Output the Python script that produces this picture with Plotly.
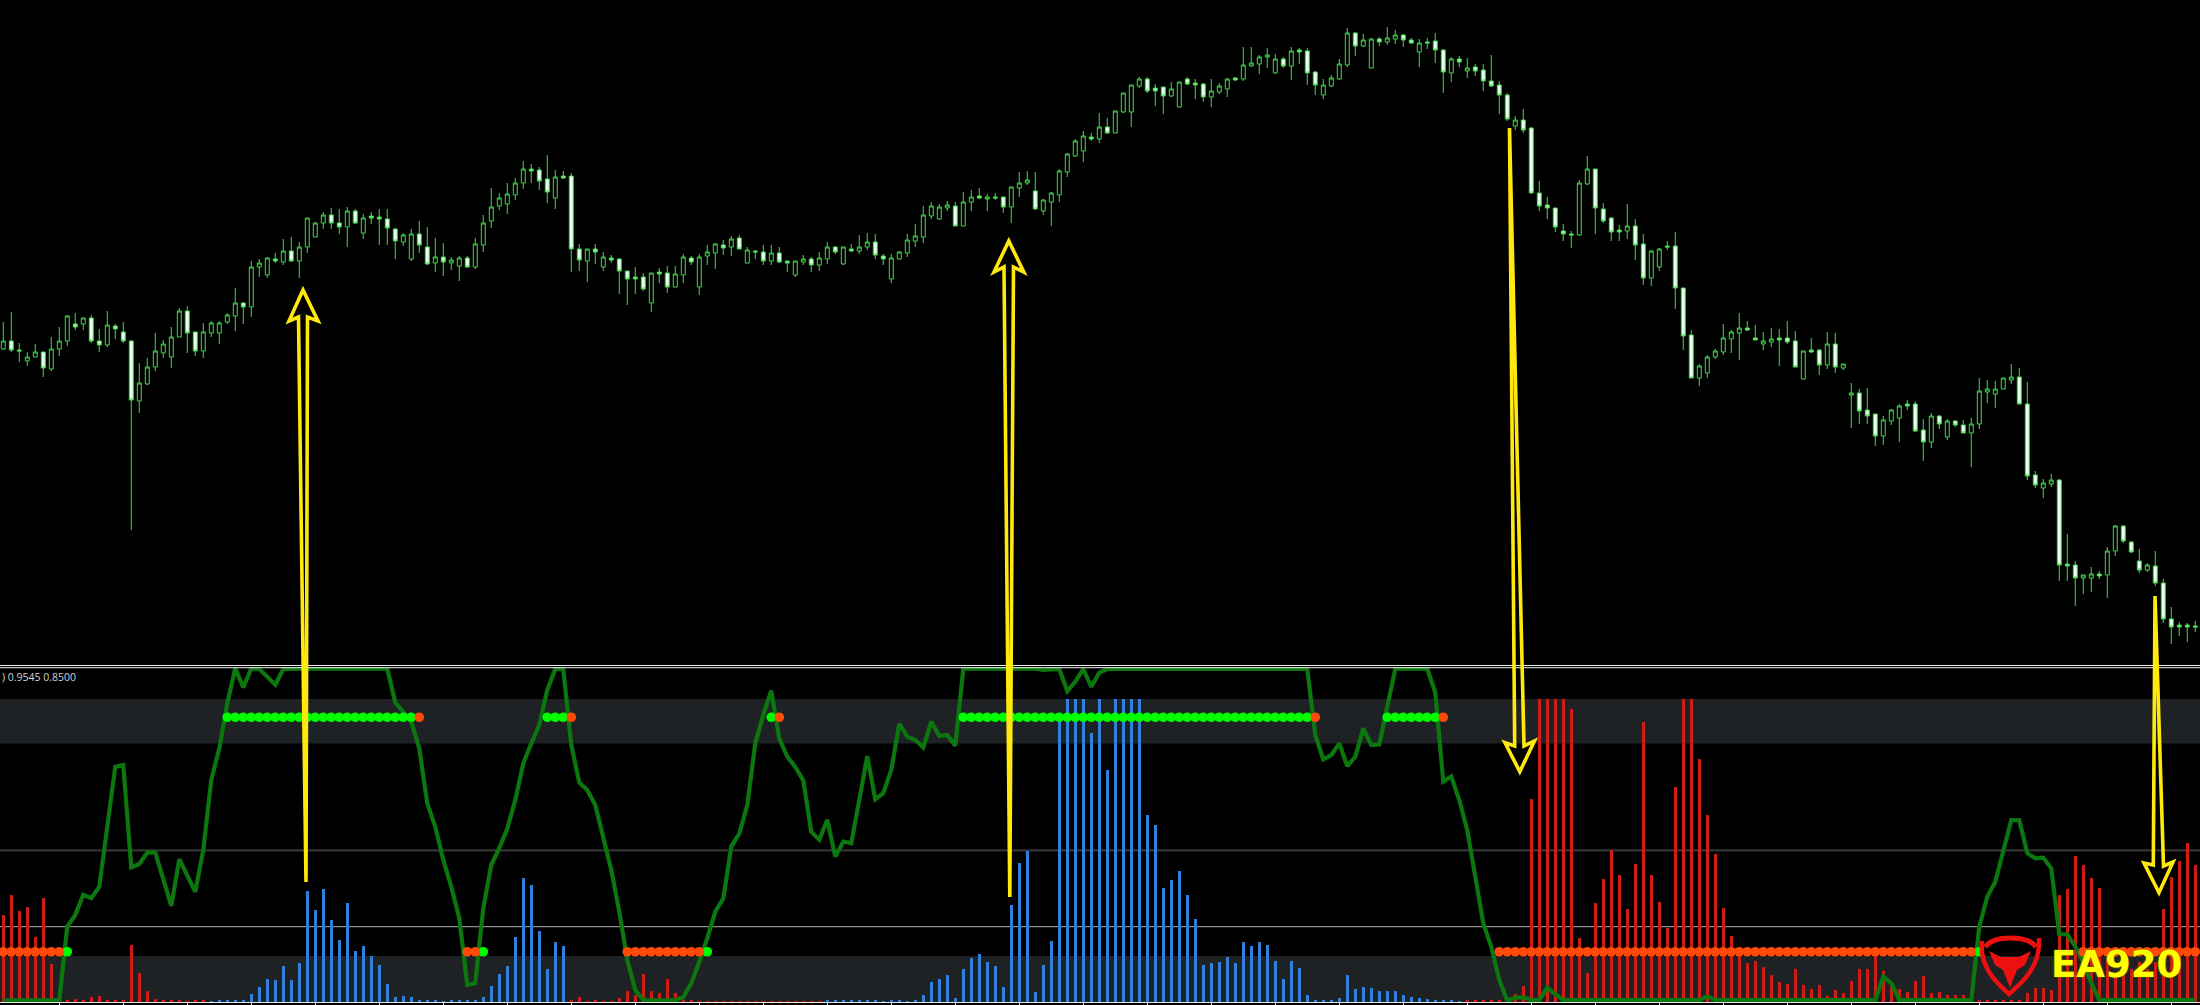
import plotly.graph_objects as go

W, H = 2200, 1005

# ---- price panel data -------------------------------------------------
body_top = [
359,359,350,343,348,348,351,359,384,376,
382,382,359,375,374,368,359,317,333,349,
356,363,389,389,368,368,377,377,385,397,
397,433,437,442,441,449,449,453,482,477,
485,485,477,489,489,482,484,483,481,471,
465,466,466,453,443,443,440,442,442,456,
477,493,502,506,517,531,531,530,521,523,
524,524,451,451,451,443,442,441,429,423,
423,427,428,427,426,443,442,443,448,456,
455,461,462,450,449,448,447,447,439,439,
441,441,442,453,453,453,451,453,458,458,
444,442,448,460,464,485,494,493,495,494,
498,503,504,503,503,503,513,517,520,509,
500,507,529,546,559,564,563,573,573,589,
607,615,621,621,612,613,611,618,621,617,
616,609,614,621,622,635,637,643,645,641,
641,649,650,649,628,615,622,636,667,667,
660,661,661,662,665,665,660,657,658,659,
650,641,641,632,633,630,619,615,605,580,
580,572,507,495,492,469,466,517,531,531,
491,482,470,474,474,456,449,451,454,454,
412,365,334,343,349,362,368,372,372,362,
359,361,362,362,359,349,350,350,356,356,
336,307,307,290,286,280,290,294,296,296,
270,284,284,279,279,275,276,309,311,311,
322,323,323,296,225,217,220,220,136,135,
125,126,126,149,174,174,158,139,135,134,
117,81,75,75,74]
body_bottom = [
351,350,349,339,343,332,331,351,359,373,
376,359,355,355,371,359,300,299,316,333,
347,343,363,367,349,349,367,367,378,384,
393,393,433,425,439,438,439,439,453,463,
477,477,473,473,477,467,482,481,472,459,
458,441,455,436,437,438,437,434,433,433,
455,479,494,496,505,517,529,519,508,502,
522,451,440,439,448,433,440,429,421,421,
411,397,426,413,413,425,438,413,444,447,
452,453,451,437,448,439,439,438,437,425,
438,435,435,441,448,436,449,449,453,445,
441,421,441,447,459,463,484,481,492,474,
474,498,502,501,502,493,493,512,517,491,
489,498,505,528,544,549,561,561,567,567,
588,588,614,609,609,604,604,593,616,615,
603,603,608,611,620,621,634,636,643,627,
634,634,648,627,615,605,614,621,635,654,
654,632,658,658,661,660,657,648,657,650,
628,627,638,629,629,619,614,605,581,574,
570,507,494,492,473,466,465,465,516,492,
479,468,468,469,455,422,422,433,453,412,
364,322,322,327,343,348,361,367,370,360,
356,358,360,358,333,321,348,335,335,333,
332,305,289,284,264,264,279,282,294,269,
258,258,276,263,275,267,267,276,308,306,
311,320,296,224,215,212,216,135,134,122,
122,122,124,125,149,159,148,130,130,117,
81,73,73,73,73]
high_price = [
378,388,357,348,356,348,363,373,385,387,
382,385,371,389,376,378,360,337,342,367,
360,373,392,394,368,377,379,379,387,412,
398,439,441,443,447,461,463,458,482,478,
488,492,491,493,491,486,488,491,491,472,
467,471,479,473,462,457,443,444,444,462,
485,512,507,517,522,539,536,533,545,530,
529,527,456,451,456,448,445,442,429,433,
427,427,432,434,434,446,444,446,455,457,
460,464,465,453,450,455,455,453,439,439,
445,443,448,458,454,453,456,465,467,466,
446,446,449,466,476,494,498,496,499,498,
508,510,512,506,507,503,513,528,529,528,
501,508,531,547,561,569,567,587,582,589,
607,615,623,623,616,613,618,618,623,621,
617,621,617,622,623,653,653,645,652,646,
643,653,652,652,629,621,625,641,672,668,
666,662,663,673,670,666,662,661,662,667,
651,643,644,642,636,636,645,619,607,584,
591,573,519,503,492,476,469,520,544,531,
497,483,475,496,481,466,450,452,459,468,
412,370,336,345,351,376,370,387,379,375,
368,372,371,379,369,349,362,351,368,367,
336,317,311,312,286,284,291,296,300,299,
281,287,285,281,280,280,282,322,320,319,
322,336,332,318,229,221,226,221,166,139,
125,133,129,153,175,175,159,151,137,149,
121,93,78,77,79]
low_price = [
350,348,338,334,343,323,329,344,354,370,
370,357,348,353,361,357,170,287,315,329,
342,332,363,347,344,342,363,356,376,369,
376,383,423,422,437,435,438,422,447,463,
471,471,466,453,476,461,476,455,455,441,
454,439,447,435,428,424,430,419,432,431,
448,472,490,486,500,511,517,510,497,491,
521,428,429,418,436,429,437,406,395,406,
409,388,417,407,413,417,435,405,435,431,
445,444,451,437,441,435,435,437,428,423,
435,428,429,436,446,435,448,446,450,441,
435,417,441,443,453,457,481,480,489,474,
474,489,501,489,500,487,477,503,515,490,
485,474,498,523,543,538,559,557,566,567,
587,573,612,607,594,586,603,593,615,601,
598,593,606,603,619,619,633,626,632,626,
632,620,636,615,605,601,613,620,633,644,
653,632,654,655,656,653,656,633,651,637,
607,618,633,622,624,609,613,586,579,570,
567,506,489,481,468,459,452,464,515,466,
477,459,459,461,440,415,414,429,450,391,
350,322,314,322,341,345,347,340,369,360,
350,353,334,356,333,321,347,325,331,327,
330,272,276,276,254,255,275,258,290,268,
239,252,271,260,273,267,233,271,297,292,
311,316,296,220,212,202,213,119,119,94,
106,108,121,102,144,157,147,127,128,114,
77,56,64,58,68]
is_bearish = [
0,1,1,0,0,1,0,0,0,1,
0,1,1,0,1,1,1,0,0,0,
0,0,0,1,1,0,0,0,0,0,
1,0,0,0,1,0,1,0,0,0,
0,1,1,0,1,0,1,1,1,1,
0,0,1,1,0,1,0,0,1,0,
0,0,0,0,0,0,1,1,1,0,
1,1,1,0,1,0,1,1,1,1,
1,0,1,1,0,0,1,0,0,0,
1,0,1,0,1,1,0,1,1,0,
0,1,0,0,1,0,1,0,0,1,
1,0,0,0,0,0,0,0,0,1,
0,0,1,0,1,1,0,0,0,1,
0,0,0,0,0,0,1,0,1,0,
0,0,0,1,1,1,0,0,1,1,
1,0,0,0,1,0,0,0,0,0,
1,0,1,1,1,0,0,0,0,1,
0,0,1,0,0,1,1,0,1,1,
1,0,1,0,1,1,1,1,1,0,
1,1,1,1,1,1,1,0,0,1,
1,1,1,0,1,1,0,0,1,1,
1,1,0,0,0,0,0,0,1,1,
0,0,1,1,1,0,1,1,0,1,
0,0,1,1,1,0,0,0,1,1,
1,0,1,0,1,1,0,0,0,0,
0,0,1,1,1,0,0,1,1,1,
0,0,1,0,0,1,1,1,0,1,
1,1,1,1,1]

# ---- indicator panel data ----------------------------------------------
strength = [
.26,.319,.272,.284,.195,.31,.113,.002,.006,.009,
.004,.015,.018,.004,.004,.003,.17,.088,.034,.009,
.004,.004,.004,.002,.004,.004,.002,.003,.003,.004,
.003,.024,.046,.069,.066,.107,.066,.117,.331,.275,
.337,.245,.185,.296,.152,.167,.137,.11,.054,.015,
.018,.015,.004,.003,.003,.002,.004,.004,.003,.003,
.015,.048,.084,.107,.194,.37,.349,.212,.099,.179,
.167,.004,.015,.002,.004,.002,.002,.012,.033,.02,
.084,.033,.027,.069,.027,.003,.003,.002,.002,.002,
.002,.002,.002,.002,.002,.002,.002,.002,.002,.002,
.002,.002,.002,.003,.003,.003,.003,.003,.003,.003,
.002,.003,.003,.002,.003,.021,.06,.069,.081,.012,
.099,.131,.143,.119,.107,.045,.29,.415,.451,.03,
.11,.182,.85,.905,.905,.905,.803,.905,.693,.905,
.905,.905,.905,.558,.528,.34,.364,.391,.319,.248,
.11,.116,.119,.134,.116,.179,.167,.179,.17,.122,
.069,.122,.101,.021,.006,.004,.005,.012,.081,.039,
.045,.042,.033,.033,.033,.021,.015,.012,.009,.004,
.003,.003,.002,.003,.003,.003,.003,.003,.002,.024,
.048,.606,.905,.905,.905,.905,.875,.191,.087,.296,
.367,.454,.379,.278,.412,.836,.379,.299,.221,.642,
.905,.905,.725,.558,.442,.281,.197,.145,.116,.122,
.104,.081,.06,.054,.099,.051,.039,.051,.018,.036,
.027,.063,.099,.099,.137,.093,.05,.039,.03,.063,
.078,.027,.03,.021,.021,.021,.004,.003,.003,.003,
.003,.003,.003,.027,.042,.042,.036,.319,.337,.436,
.409,.37,.34,.13,.085,.14,.1,.12,.1,.12,
.277,.374,.421,.475,.409]
blue_runs = [(26, 70), (103, 182)]

oscillator = [
.005,.005,.005,.005,.005,.005,.005,.005,.225,.26,
.32,.31,.344,.523,.702,.707,.402,.412,.446,.446,
.364,.287,.426,.374,.329,.454,.663,.757,.892,.996,
.939,.996,.994,.971,.947,.994,.995,.995,.995,.995,
.995,.995,.995,.995,.995,.995,.995,.995,.995,.894,
.867,.837,.757,.593,.523,.424,.344,.25,.051,.056,
.28,.409,.459,.518,.603,.712,.772,.827,.931,.994,
.994,.767,.655,.633,.588,.484,.394,.27,.125,.036,
.006,.005,.005,.005,.006,.014,.056,.12,.19,.27,
.309,.464,.503,.588,.772,.857,.929,.787,.732,.702,
.661,.508,.484,.544,.434,.479,.474,.603,.734,.605,
.623,.693,.83,.792,.782,.76,.837,.794,.797,.765,
.994,.995,.995,.995,.995,.995,.995,.995,.995,.995,
.991,.991,.994,.928,.956,.994,.941,.983,.994,.995,
.995,.995,.995,.995,.995,.995,.995,.995,.995,.995,
.995,.995,.995,.995,.995,.995,.995,.995,.995,.995,
.995,.995,.995,.994,.797,.724,.737,.772,.704,.732,
.817,.767,.769,.882,.994,.995,.995,.995,.995,.923,
.658,.673,.603,.513,.374,.235,.165,.066,.004,.013,
.014,.006,.006,.043,.023,.006,.006,.006,.006,.006,
.006,.006,.006,.006,.006,.006,.006,.006,.006,.006,
.006,.006,.006,.016,.006,.006,.006,.006,.006,.006,
.006,.006,.006,.006,.006,.006,.006,.006,.006,.006,
.006,.006,.006,.006,.006,.076,.056,.006,.006,.006,
.006,.006,.006,.006,.006,.006,.006,.225,.314,.359,
.454,.543,.543,.444,.429,.431,.399,.203,.202,.165,
.12,.056,.006,.006,.006,.006,.006,.006,.006,.006,
.006,.006,.006,.006,.006]

# runs of signal dots: (first bar, last bar, level)
green_dot_runs = [(8, 8, .15), (28, 51, .85), (60, 60, .15), (68, 70, .85), (88, 88, .15),
                  (96, 96, .85), (120, 163, .85), (173, 179, .85), (247, 247, .15)]
orange_dot_runs = [(0, 7, .15), (52, 52, .85), (58, 59, .15), (71, 71, .85), (78, 87, .15),
                   (97, 97, .85), (164, 164, .85), (180, 180, .85), (187, 246, .15), (260, 274, .15)]

band_levels = [(.7716, .9045), (0, .137)]
level_lines = [(.4528, "#343434", 2.2), (.2248, "#8c8c8c", 1.2)]
tick_bars = list(range(7, 275, 8))
indicator_label = ") 0.9545 0.8500"
logo_label = "EA920"

bars = list(range(len(body_top)))
open_price = [t if b else d for t, d, b in zip(body_top, body_bottom, is_bearish)]
close_price = [d if b else t for t, d, b in zip(body_top, body_bottom, is_bearish)]


def expand(runs):
    xs, ys = [], []
    for a, b, level in runs:
        for i in range(a, b + 1):
            xs.append(i)
            ys.append(level)
    return xs, ys


hist_colors = ["#2f7fdc" if any(a <= i <= b for a, b in blue_runs) else "#d01c16" for i in bars]

CANDLE = "#3fdc44"
fig = go.Figure()
fig.add_trace(go.Candlestick(
    x=bars, open=open_price, high=high_price, low=low_price, close=close_price,
    xaxis="x", yaxis="y", whiskerwidth=0,
    increasing=dict(line=dict(color=CANDLE, width=1), fillcolor="#000000"),
    decreasing=dict(line=dict(color=CANDLE, width=1), fillcolor="#eafff0"),
    showlegend=False,
))
fig.add_trace(go.Bar(x=bars, y=strength, xaxis="x2", yaxis="y2", width=0.36,
                     marker=dict(color=hist_colors, line=dict(width=0)), showlegend=False))
fig.add_trace(go.Scatter(x=bars, y=oscillator, xaxis="x2", yaxis="y2", mode="lines",
                         line=dict(color="#0c760f", width=4.2), showlegend=False))
gx, gy = expand(green_dot_runs)
ox, oy = expand(orange_dot_runs)
fig.add_trace(go.Scatter(x=gx, y=gy, xaxis="x2", yaxis="y2", mode="markers",
                         marker=dict(color="#00ff00", size=9.6, line=dict(width=0)), showlegend=False))
fig.add_trace(go.Scatter(x=ox, y=oy, xaxis="x2", yaxis="y2", mode="markers",
                         marker=dict(color="#ff4a0a", size=9.6, line=dict(width=0)), showlegend=False))


def path(points, close=True):
    s = "M " + " L ".join(f"{x / W:.5f},{1 - y / H:.5f}" for x, y in points)
    return s + (" Z" if close else "")


def curve(cmd):
    out = []
    for tok in cmd.split():
        if "," in tok:
            x, y = tok.split(",")
            out.append(f"{float(x) / W:.5f},{1 - float(y) / H:.5f}")
        else:
            out.append(tok)
    return " ".join(out)


shapes = []
for lo, hi in band_levels:
    shapes.append(dict(type="rect", xref="paper", yref="y2", x0=0, x1=1, y0=lo, y1=hi,
                       fillcolor="#1f2225", line=dict(width=0), layer="below"))
for lvl, col, wd in level_lines:
    shapes.append(dict(type="line", xref="paper", yref="y2", x0=0, x1=1, y0=lvl, y1=lvl,
                       line=dict(color=col, width=wd), layer="below"))
for yy in (665.5, 667.7):
    shapes.append(dict(type="line", xref="paper", yref="paper", x0=0, x1=1,
                       y0=1 - yy / H, y1=1 - yy / H, line=dict(color="#f0f0f0", width=1)))

# yellow hand-drawn arrows (annotation overlay)
YEL = "#ffe80d"
arrow_outlines = [
    [(306, 882), (298.5, 317), (289, 321), (303, 290), (318, 321), (307.5, 317)],
    [(1009.8, 897), (1004, 267), (994, 272), (1008.8, 241), (1023.8, 272), (1013.5, 267)],
    [(1509.5, 128), (1514.7, 746), (1505, 742.7), (1519.8, 771.7), (1534.4, 741), (1524, 746)],
    [(2155, 596), (2153.3, 865), (2144, 863), (2159, 892.7), (2173, 862), (2163.5, 866)],
]
for pts in arrow_outlines:
    shapes.append(dict(type="path", xref="paper", yref="paper", path=path(pts),
                       line=dict(color=YEL, width=3.6), fillcolor="rgba(0,0,0,0)"))

# logo
RED = "#ee0f0f"
shapes.append(dict(type="path", xref="paper", yref="paper",
                   path=curve("M 1982,941 C 1979,968 1998,984 2009,994 C 2020,984 2041,968 2039,938"),
                   line=dict(color=RED, width=4.5), fillcolor="rgba(0,0,0,0)"))
shapes.append(dict(type="path", xref="paper", yref="paper",
                   path=curve("M 1985,947 Q 1992,938 2010,938 Q 2030,938 2036,947"),
                   line=dict(color=RED, width=5), fillcolor="rgba(0,0,0,0)"))
shapes.append(dict(type="path", xref="paper", yref="paper",
                   path=path([(1989, 951), (2001, 957), (2019, 957), (2031, 951), (2025, 965),
                              (2017, 970), (2010, 988), (2003, 970), (1995, 965)]),
                   line=dict(width=0), fillcolor=RED))

annotations = [
    dict(text=indicator_label, xref="paper", yref="paper", x=0, y=1 - 677 / H, xanchor="left",
         yanchor="middle", showarrow=False, font=dict(family="Open Sans", size=10.5, color="#d0d0d0")),
    dict(text=f"<b>{logo_label}</b>", xref="paper", yref="paper", x=2116.5 / W, y=1 - 964 / H,
         xanchor="center", yanchor="middle", showarrow=False,
         font=dict(family="DejaVu Sans", size=37, color="#ffff00", shadow="0 0 2px #8a7a00")),
]

x_range = [-0.41, 274.59]
fig.update_layout(
    width=W, height=H, margin=dict(l=0, r=0, t=0, b=0, pad=0), autosize=False,
    paper_bgcolor="#000000", plot_bgcolor="#000000", bargap=0, showlegend=False,
    shapes=shapes, annotations=annotations,
    xaxis=dict(domain=[0, 1], range=x_range, visible=False, rangeslider=dict(visible=False), anchor="y"),
    yaxis=dict(domain=[1 - 664 / H, 1], range=[36, 700], visible=False, anchor="x"),
    xaxis2=dict(domain=[0, 1], range=x_range, anchor="y2", showgrid=False, zeroline=False,
                showline=True, linecolor="#e8e8e8", linewidth=1, ticks="outside", ticklen=3,
                tickcolor="#e8e8e8", tickvals=tick_bars, showticklabels=False),
    yaxis2=dict(domain=[1 - 1002 / H, 1 - 667 / H], range=[0, 1], visible=False, anchor="x2"),
)
fig.write_html("out.html", config={"displayModeBar": False}, post_script=(
    "document.documentElement.style.background='#000';"
    "document.body.style.margin='0';document.body.style.background='#000';"
    "document.body.style.overflow='hidden';"))
